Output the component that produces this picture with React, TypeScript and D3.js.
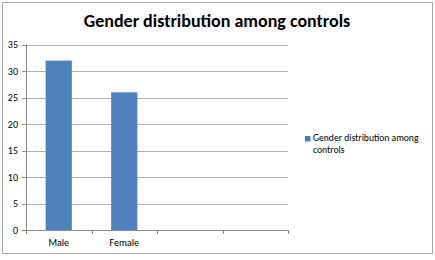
import React from "react";
import * as d3 from "d3";

const categories = ["Male", "Female", "", ""];
const values = [32, 26, null, null];
const yTicks = [0, 5, 10, 15, 20, 25, 30, 35];
const title = "Gender distribution among controls";
const legendLines = ["Gender distribution among", "controls"];

const W = 435;
const H = 260;
const plot = { left: 26, right: 288, top: 44.7, bottom: 230 };
const barColor = "#4f81bd";
const font = "Carlito, 'Open Sans', 'Liberation Sans', sans-serif";

export default function App() {
  const x = d3
    .scaleBand<number>()
    .domain(d3.range(categories.length))
    .range([plot.left, plot.right])
    .paddingInner(0.6)
    .paddingOuter(0.3);
  const xEdge = d3
    .scaleLinear()
    .domain([0, categories.length])
    .range([plot.left, plot.right]);
  const y = d3.scaleLinear().domain([0, 35]).range([plot.bottom, plot.top]);

  return (
    <svg
      width={W}
      height={H}
      style={{ position: "absolute", left: 0, top: 0, background: "#fff" }}
    >
      <rect x={2.5} y={2.5} width={430} height={251} fill="#fff" stroke="#a6a6a6" strokeWidth={1} />
      <text
        x={217}
        y={27}
        textAnchor="middle"
        fontFamily={font}
        fontWeight="bold"
        fontSize={18}
        fill="#000"
      >
        {title}
      </text>
      {yTicks.map((t) => (
        <g key={t}>
          {t > 0 && (
            <line
              x1={plot.left}
              x2={plot.right}
              y1={Math.round(y(t)) + 0.5}
              y2={Math.round(y(t)) + 0.5}
              stroke="#b3b3b3"
              strokeWidth={1}
            />
          )}
          <line
            x1={plot.left - 4}
            x2={plot.left}
            y1={Math.round(y(t)) + 0.5}
            y2={Math.round(y(t)) + 0.5}
            stroke="#8c8c8c"
          />
          <text
            x={plot.left - 8}
            y={y(t) + 3.5}
            textAnchor="end"
            fontFamily={font}
            fontSize={10}
            fill="#000"
          >
            {t}
          </text>
        </g>
      ))}
      {values.map((v, i) =>
        v == null ? null : (
          <rect
            key={i}
            x={x(i)}
            y={y(v)}
            width={x.bandwidth()}
            height={y(0) - y(v)}
            fill={barColor}
          />
        )
      )}
      <line
        x1={plot.left + 0.5}
        x2={plot.left + 0.5}
        y1={plot.top}
        y2={plot.bottom}
        stroke="#8c8c8c"
      />
      <line
        x1={plot.left}
        x2={plot.right}
        y1={plot.bottom + 0.5}
        y2={plot.bottom + 0.5}
        stroke="#8c8c8c"
      />
      {d3.range(categories.length + 1).map((i) => (
        <line
          key={i}
          x1={Math.round(xEdge(i)) + 0.5}
          x2={Math.round(xEdge(i)) + 0.5}
          y1={plot.bottom}
          y2={plot.bottom + 4}
          stroke="#8c8c8c"
        />
      ))}
      {categories.map((c, i) => (
        <text
          key={i}
          x={(x(i) ?? 0) + x.bandwidth() / 2}
          y={246}
          textAnchor="middle"
          fontFamily={font}
          fontSize={10}
          fill="#000"
        >
          {c}
        </text>
      ))}
      <rect x={305} y={136} width={5.5} height={5.5} fill={barColor} />
      {legendLines.map((l, i) => (
        <text
          key={i}
          x={313}
          y={141.3 + i * 11.6}
          fontFamily={font}
          fontSize={9.6}
          fill="#000"
        >
          {l}
        </text>
      ))}
    </svg>
  );
}
